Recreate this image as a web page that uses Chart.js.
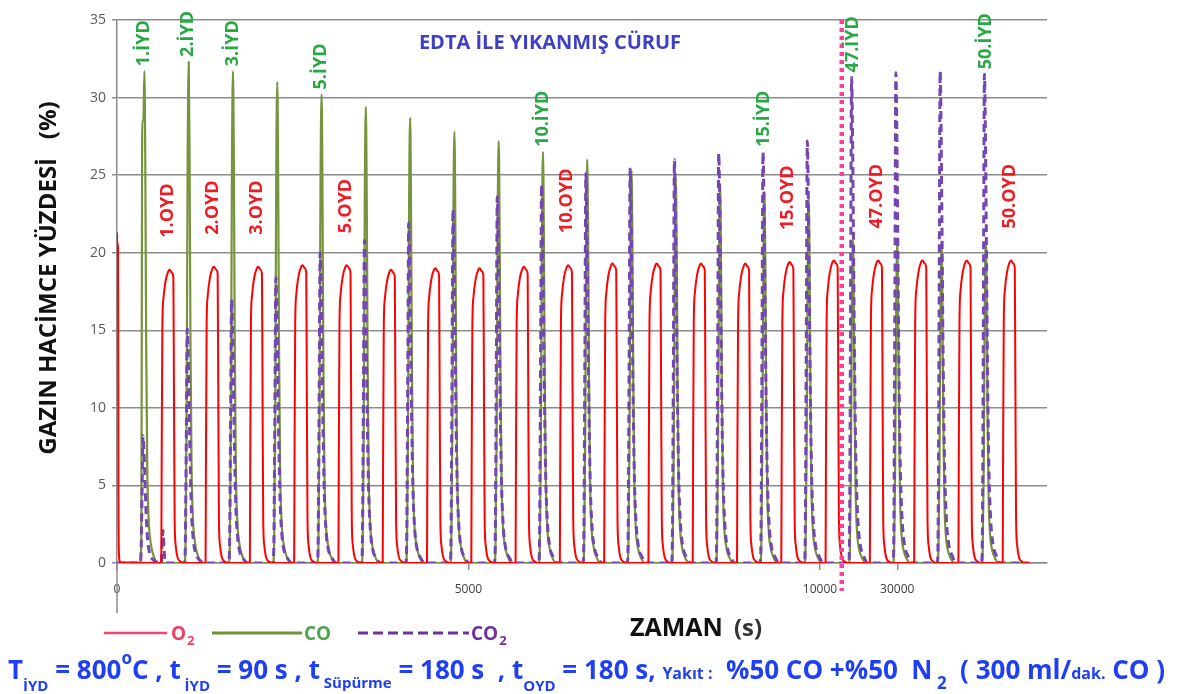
<!DOCTYPE html>
<html>
<head>
<meta charset="utf-8">
<title>EDTA ile yıkanmış cüruf – İYD/OYD döngüleri</title>
<script src="https://cdn.jsdelivr.net/npm/chart.js@4.4.1/dist/chart.umd.min.js"></script>
<style>
  html, body { margin: 0; padding: 0; background: #ffffff; }
  #wrap { position: relative; width: 1184px; height: 694px; }
  canvas { display: block; }
</style>
</head>
<body>
<div id="wrap"><canvas id="chart" width="1184" height="694"></canvas></div>
<script>
// ---- measured series: one entry per displayed cycle ----
const cycleNumbers = [1, 2, 3, 4, 5, 6, 7, 8, 9, 10, 11, 12, 13, 14, 15, 16, 47, 48, 49, 50];
const coPeaks      = [31.7, 32.3, 31.7, 31.0, 30.2, 29.4, 28.7, 27.8, 27.2, 26.5, 26.0, 25.3, 24.8, 24.4, 23.9, 23.6, 20.8, 20.7, 20.7, 20.8];
const co2Peaks     = [8.2, 15.1, 17.0, 18.4, 20.0, 20.8, 21.9, 22.8, 23.6, 24.4, 25.1, 25.4, 26.0, 26.4, 26.5, 27.2, 31.3, 31.6, 31.7, 31.5];
const o2Peaks      = [18.9, 19.1, 19.1, 19.2, 19.2, 18.9, 19.0, 19.0, 19.1, 19.2, 19.3, 19.3, 19.3, 19.3, 19.4, 19.5, 19.5, 19.5, 19.5, 19.5];
const coShoulder   = [28.5, 0, 0, 0, 0, 0, 0, 0, 0, 0, 0, 0, 0, 0, 0, 0, 0, 0, 0, 0];
const co2BurnOff   = [2.1, 0, 0, 0, 0, 0, 0, 0, 0, 0, 0, 0, 0, 0, 0, 0, 0, 0, 0, 0];

// O2 reading while the reactor is still under air at t = 0
const airStartT = [0, 5, 14, 20, 28, 45];
const airStartV = [21.3, 20.6, 20.4, 5.0, 0.6, 0.05];

// pulse shapes (seconds after step start, fraction of the pulse peak)
const coProfileT  = [0, 15, 30, 45, 60, 72, 85, 100, 120, 150, 190, 250];
const coProfileF  = [0, 0.04, 0.3, 0.8, 1, 0.82, 0.45, 0.2, 0.09, 0.04, 0.015, 0];
const co2ProfileT = [0, 12, 25, 40, 52, 65, 80, 100, 125, 160, 210, 270];
const co2ProfileF = [0, 0.08, 0.5, 1, 0.9, 0.7, 0.45, 0.22, 0.1, 0.04, 0.015, 0];
const o2ProfileT  = [0, 5, 15, 30, 60, 100, 120, 150, 172, 180, 190, 205, 230, 270, 320];
const o2ProfileF  = [0, 0.32, 0.8, 0.9, 0.96, 0.995, 1, 0.99, 0.975, 0.6, 0.15, 0.06, 0.02, 0.005, 0];
const burnProfileT = [0, 10, 25, 40, 60];
const burnProfileF = [0, 0.5, 1, 0.4, 0];

// annotated cycles
const iydLabelCycles = [1, 2, 3, 5, 10, 15, 47, 50];
const oydLabelCycles = [1, 2, 3, 5, 10, 15, 47, 50];

// axis values
const xTickSeconds = [0, 5000, 10000, 30000];
const yMin = 0, yMax = 35, yStep = 5;

// ---- timing of the cycles ----
const cyclePeriod = 630;          // 90 s İYD + 180 s süpürme + 180 s OYD + 180 s süpürme
const firstReductionStart = 330;  // first CO step
const oxidationDelay = 300;       // OYD step start after the İYD step start
const hiddenFrom = firstReductionStart + cyclePeriod * 16;  // cycles 17–46 are left out
const hiddenSpan = cyclePeriod * 30;
const dividerAt = 10310;          // dotted divider on the time axis
const runEnd = 31880;
const axisEnd = 13230;

const reductionStart = c => firstReductionStart + cyclePeriod * (c - 1);
const toAxis = t => (t >= hiddenFrom ? t - hiddenSpan : t);
const fromAxis = v => (v > dividerAt ? v + hiddenSpan : v);

// ---- build the point lists ----
const o2Points = [], coPoints = [], co2Points = [];
airStartT.forEach((t, i) => o2Points.push({ x: toAxis(t), y: airStartV[i] }));
coPoints.push({ x: 0, y: 0 });
co2Points.push({ x: 0, y: 0 });

cycleNumbers.forEach((c, i) => {
  const s = reductionStart(c);
  coProfileT.forEach((dt, k) => {
    let v = coPeaks[i] * coProfileF[k];
    if (coShoulder[i] > 0 && dt >= 20 && dt <= 50) v = Math.max(v, coShoulder[i]);
    coPoints.push({ x: toAxis(s + dt), y: v });
  });
  co2ProfileT.forEach((dt, k) => co2Points.push({ x: toAxis(s + dt), y: co2Peaks[i] * co2ProfileF[k] }));
  const ox = s + oxidationDelay;
  if (co2BurnOff[i] > 0) {
    burnProfileT.forEach((dt, k) => co2Points.push({ x: toAxis(ox + dt), y: co2BurnOff[i] * burnProfileF[k] }));
  }
  o2ProfileT.forEach((dt, k) => o2Points.push({ x: toAxis(ox + dt), y: o2Peaks[i] * o2ProfileF[k] }));
});
[o2Points, coPoints, co2Points].forEach(p => p.push({ x: toAxis(runEnd), y: 0 }));

const FONT = '"Open Sans", "Noto Sans", "DejaVu Sans", sans-serif';
const C_O2 = '#ff0000', C_CO = '#77933c', C_CO2 = '#7446b0';

// horizontally squeezed text so a line fits a given width
function fitText(ctx, text, x, y, width) {
  const w = ctx.measureText(text).width;
  const k = Math.min(1, width / w);
  ctx.save();
  ctx.translate(x, y);
  ctx.scale(k, 1);
  ctx.fillText(text, 0, 0);
  ctx.restore();
}

const overlay = {
  id: 'overlay',
  afterDraw(chart) {
    const ctx = chart.ctx, xs = chart.scales.x, ys = chart.scales.y, area = chart.chartArea;
    ctx.save();

    // vertical axis continues through the time labels
    ctx.strokeStyle = '#8c8c8c';
    ctx.lineWidth = 1.5;
    const x0 = xs.getPixelForValue(0);
    ctx.beginPath(); ctx.moveTo(x0, area.bottom); ctx.lineTo(x0, area.bottom + 50); ctx.stroke();

    // cycle annotations
    ctx.font = 'bold 18px ' + FONT;
    ctx.textAlign = 'left';
    ctx.textBaseline = 'middle';
    iydLabelCycles.forEach(c => {
      const i = cycleNumbers.indexOf(c);
      const px = xs.getPixelForValue(toAxis(reductionStart(c) + 55));
      const py = ys.getPixelForValue(Math.max(coPeaks[i], co2Peaks[i])) - 5;
      ctx.save(); ctx.translate(px, py); ctx.rotate(-Math.PI / 2);
      ctx.fillStyle = '#27a844'; ctx.fillText(c + '.İYD', 0, 0); ctx.restore();
    });
    oydLabelCycles.forEach(c => {
      const i = cycleNumbers.indexOf(c);
      const px = xs.getPixelForValue(toAxis(reductionStart(c) + oxidationDelay + 100));
      const py = ys.getPixelForValue(o2Peaks[i]) - 32;
      ctx.save(); ctx.translate(px, py); ctx.rotate(-Math.PI / 2);
      ctx.fillStyle = '#ee1c25'; ctx.fillText(c + '.OYD', 0, 0); ctx.restore();
    });

    // panel title
    ctx.textAlign = 'center';
    ctx.textBaseline = 'alphabetic';
    ctx.fillStyle = '#3f3fc6';
    ctx.font = 'bold 20px ' + FONT;
    ctx.save(); ctx.translate(550, 49);
    const tw = ctx.measureText('EDTA İLE YIKANMIŞ CÜRUF').width;
    ctx.scale(Math.min(1, 286 / tw), 1);
    ctx.fillText('EDTA İLE YIKANMIŞ CÜRUF', 0, 0);
    ctx.restore();

    // y axis title
    ctx.save();
    ctx.translate(56, 278);
    ctx.rotate(-Math.PI / 2);
    ctx.fillStyle = '#111111';
    ctx.font = 'bold 24px ' + FONT;
    const yt = 'GAZIN HACİMCE YÜZDESİ   (%)';
    const yw = ctx.measureText(yt).width;
    ctx.textAlign = 'left';
    fitText(ctx, yt, -Math.min(yw, 365) / 2, 0, 365);
    ctx.restore();

    // x axis title
    ctx.textAlign = 'left';
    ctx.fillStyle = '#111111';
    ctx.font = 'bold 25px ' + FONT;
    fitText(ctx, 'ZAMAN', 630, 636, 98);
    ctx.fillStyle = '#333333';
    ctx.font = 'bold 24px ' + FONT;
    fitText(ctx, '(s)', 734, 636, 28);

    // legend
    const legendY = 633;
    ctx.lineCap = 'butt';
    ctx.lineWidth = 2.5; ctx.strokeStyle = '#f0466a'; ctx.setLineDash([]);
    ctx.beginPath(); ctx.moveTo(104, legendY); ctx.lineTo(167, legendY); ctx.stroke();
    ctx.lineWidth = 3; ctx.strokeStyle = '#6f9234';
    ctx.beginPath(); ctx.moveTo(212, legendY); ctx.lineTo(302, legendY); ctx.stroke();
    ctx.strokeStyle = '#7030a0'; ctx.setLineDash([10, 5]);
    ctx.beginPath(); ctx.moveTo(358, legendY); ctx.lineTo(469, legendY); ctx.stroke();
    ctx.setLineDash([]);
    ctx.font = 'bold 19px ' + FONT;
    ctx.fillStyle = '#f03c64';
    ctx.fillText('O', 171, 640);
    let ow = ctx.measureText('O').width;
    ctx.font = 'bold 13px ' + FONT; ctx.fillText('2', 171 + ow + 1, 645);
    ctx.font = 'bold 19px ' + FONT; ctx.fillStyle = '#4ca64c';
    ctx.fillText('CO', 304, 640);
    ctx.fillStyle = '#7030a0';
    ctx.fillText('CO', 471, 640);
    ow = ctx.measureText('CO').width;
    ctx.font = 'bold 13px ' + FONT; ctx.fillText('2', 471 + ow + 1, 645);

    // experimental conditions line
    const big = 'bold 26px ' + FONT, sub = 'bold 15px ' + FONT, sup = 'bold 17px ' + FONT, small = 'bold 16px ' + FONT;
    const parts = [
      ['T', big, 679], ['İYD', sub, 691], [' = 800', big, 679], ['o', sup, 664], ['C , t', big, 679],
      [' İYD', sub, 691], [' = 90 s , t', big, 679], [' Süpürme', sub, 688], [' = 180 s  , t', big, 679],
      ['OYD', sub, 691], [' = 180 s, ', big, 679], ['Yakıt :', small, 679], ['  %50 CO +%50  N', big, 679],
      [' 2', sup, 689], ['  ( 300 ml/', big, 679], ['dak.', small, 679], [' CO )', big, 679]
    ];
    let total = 0;
    parts.forEach(p => { ctx.font = p[1]; total += ctx.measureText(p[0]).width; });
    const k = Math.min(1, (1165 - 8) / total);
    ctx.fillStyle = '#1f3ff5';
    let cx = 8;
    parts.forEach(p => {
      ctx.font = p[1];
      const w = ctx.measureText(p[0]).width;
      ctx.save(); ctx.translate(cx, p[2]); ctx.scale(k, 1); ctx.fillText(p[0], 0, 0); ctx.restore();
      cx += w * k;
    });

    ctx.restore();
  }
};

const lineBase = { pointRadius: 0, pointHoverRadius: 0, cubicInterpolationMode: 'monotone', fill: false, borderJoinStyle: 'round' };

new Chart(document.getElementById('chart'), {
  type: 'line',
  data: {
    datasets: [
      {
        label: 'divider', data: [{ x: dividerAt, y: yMax }, { x: dividerAt, y: -1.8 }],
        borderColor: '#ff3d9e', borderWidth: 4.5, borderDash: [4, 4], pointRadius: 0, clip: false, tension: 0
      },
      Object.assign({ label: 'O2', data: o2Points, borderColor: C_O2, borderWidth: 2 }, lineBase),
      Object.assign({ label: 'CO2', data: co2Points, borderColor: C_CO2, borderWidth: 3, borderDash: [8, 5] }, lineBase),
      Object.assign({ label: 'CO', data: coPoints, borderColor: C_CO, borderWidth: 2.2 }, lineBase)
    ]
  },
  options: {
    responsive: false,
    animation: false,
    devicePixelRatio: 1,
    events: [],
    layout: { padding: { left: 0, top: 20, right: 137, bottom: 0 } },
    plugins: { legend: { display: false }, tooltip: { enabled: false }, title: { display: false } },
    scales: {
      x: {
        type: 'linear', min: 0, max: axisEnd,
        afterBuildTicks: s => { s.ticks = xTickSeconds.map(t => ({ value: toAxis(t) })); },
        afterFit: s => { s.height = 131; },
        ticks: {
          autoSkip: false, maxRotation: 0, padding: 12, color: '#404040',
          font: { family: FONT, size: 12 },
          callback: v => String(fromAxis(v))
        },
        grid: { drawOnChartArea: false, drawTicks: true, tickLength: 7, color: '#8c8c8c', lineWidth: 1.5 },
        border: { display: true, color: '#8c8c8c', width: 1.5 }
      },
      y: {
        min: yMin, max: yMax,
        afterFit: s => { s.width = 117; },
        ticks: { stepSize: yStep, padding: 6, color: '#595959', font: { family: FONT, size: 14 } },
        grid: { color: '#8c8c8c', lineWidth: 1.5, drawTicks: true, tickLength: 5 },
        border: { display: true, color: '#8c8c8c', width: 1.5 }
      }
    }
  },
  plugins: [overlay]
});
</script>
</body>
</html>
